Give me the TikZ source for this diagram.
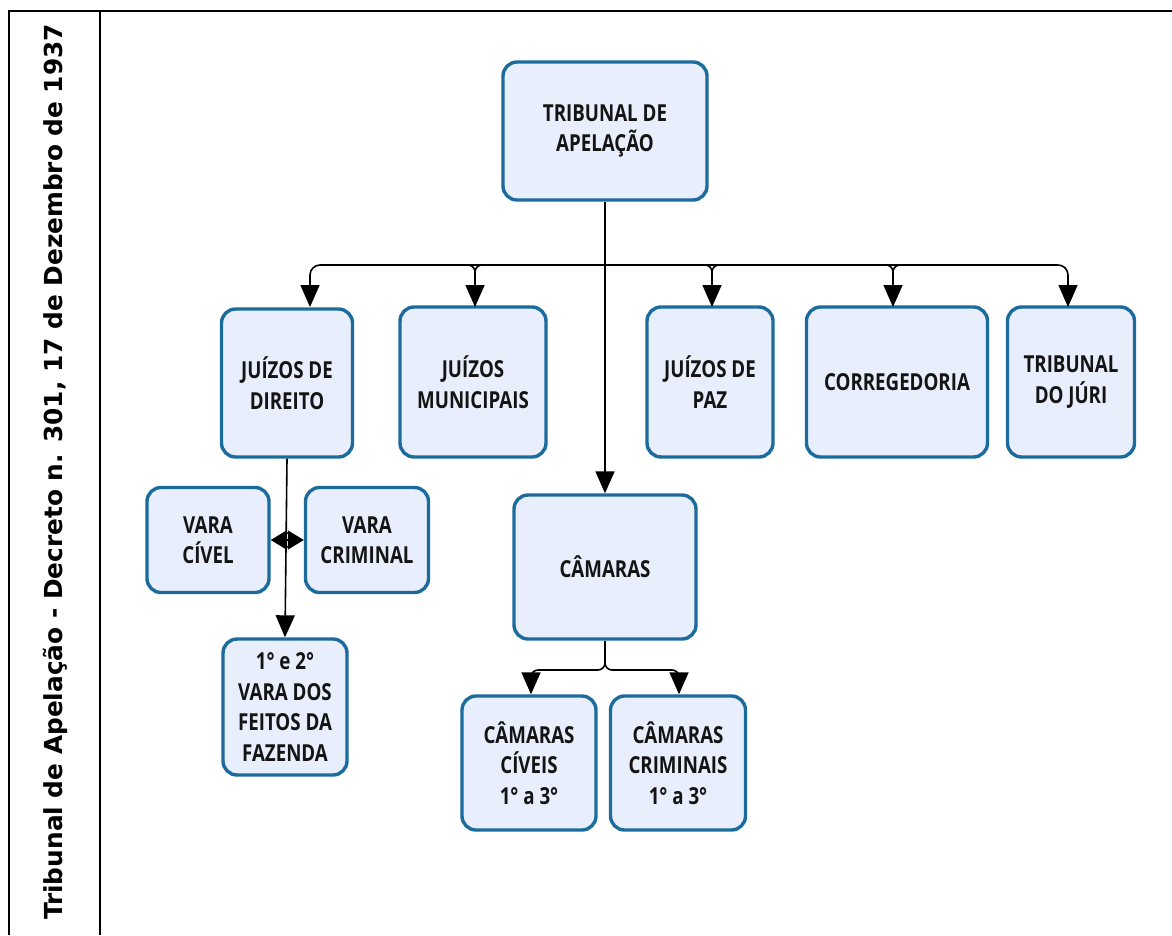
\documentclass[tikz,border=0pt]{standalone}
\usepackage{fontspec}
\setmainfont{Open Sans}
\newfontfamily\boxfont[FakeStretch=0.8]{Open Sans}
\newfontfamily\sidefont{DejaVu Sans}
\usetikzlibrary{arrows.meta}
\definecolor{boxline}{HTML}{1B6C9C}
\definecolor{boxfill}{HTML}{E9EEFC}
\begin{document}
\begin{tikzpicture}[x=1pt,y=-1pt,
  orgbox/.style={draw=boxline, line width=3.4pt, fill=boxfill, rounded corners=14pt,
    align=center, inner sep=0pt, font=\boxfont\bfseries\fontsize{23.4}{30.5}\selectfont, text=black!92},
  tip/.tip={Triangle[length=22pt,width=19pt]},
  shorttip/.tip={Triangle[length=16pt,width=19pt]},
  link/.style={line width=1.6pt, -tip},
  wire/.style={line width=1.6pt},
  frameline/.style={line width=2.6pt}]
\useasboundingbox (0,0) rectangle (1172,935);

% frame and side title
\draw[frameline] (9,935) -- (9,11) -- (1172,11);
\draw[line width=2pt] (100,11) -- (100,935);
\node[rotate=90, font=\sidefont\bfseries\fontsize{24.8}{28}\selectfont] (title) at (55,472)
  {Tribunal de Apelação - Decreto n. 301, 17 de Dezembro de 1937};

% boxes
\node[orgbox, minimum width=204pt, minimum height=138pt] (ta) at (605,131) {TRIBUNAL DE\\APELAÇÃO};
\node[orgbox, minimum width=131pt, minimum height=148pt] (jd) at (287,383) {JUÍZOS DE\\DIREITO};
\node[orgbox, minimum width=146pt, minimum height=150pt] (jm) at (473,382) {JUÍZOS\\MUNICIPAIS};
\node[orgbox, minimum width=126pt, minimum height=150pt] (jp) at (710,382) {JUÍZOS DE\\PAZ};
\node[orgbox, minimum width=181pt, minimum height=150pt] (co) at (897,382) {CORREGEDORIA};
\node[orgbox, minimum width=127pt, minimum height=150pt] (tj) at (1071,382) {TRIBUNAL\\DO JÚRI};
\node[orgbox, minimum width=122pt, minimum height=105pt] (vc) at (208,540) {VARA\\CÍVEL};
\node[orgbox, minimum width=123pt, minimum height=105pt] (vr) at (367,540) {VARA\\CRIMINAL};
\node[orgbox, minimum width=124pt, minimum height=136pt] (vf) at (285,707) {1° e 2°\\VARA DOS\\FEITOS DA\\FAZENDA};
\node[orgbox, minimum width=182pt, minimum height=144pt] (ca) at (605,567) {CÂMARAS};
\node[orgbox, minimum width=134pt, minimum height=134pt] (cc) at (529,763) {CÂMARAS\\CÍVEIS\\1° a 3°};
\node[orgbox, minimum width=135pt, minimum height=134pt] (cr) at (678,763) {CÂMARAS\\CRIMINAIS\\1° a 3°};

% bus below the court of appeal
\draw[link, rounded corners=10pt] (605,265) -- (310,265) -- (310,307);
\draw[link, rounded corners=10pt] (605,265) -- (1068,265) -- (1068,307);
\foreach \xx in {475,712,893}{
  \draw[wire, rounded corners=7pt] (\xx-20,265) -- (\xx,265) -- (\xx,285);
  \draw[wire, rounded corners=7pt] (\xx+20,265) -- (\xx,265) -- (\xx,285);
  \draw[link] (\xx,280) -- (\xx,307);
}
\draw[link] (ta.south) -- (ca.north);

% district courts
\draw[link] (jd.south) -- (vf.north);
\coordinate (mid) at (288,540);
\draw[wire, -shorttip] (mid) -- (vc.east);
\draw[wire, -shorttip] (mid) -- (vr.west);
\draw[line width=1.4pt] (mid) circle[radius=7];

% chambers
\coordinate (split) at (605,670);
\draw[wire] (ca.south) -- (605,662);
\draw[wire, rounded corners=7pt] (605,655) -- (split) -- (531,670) -- (531,682);
\draw[wire, rounded corners=7pt] (605,655) -- (split) -- (679,670) -- (679,682);
\draw[link] (531,676) -- (cc.north -| 531,0);
\draw[link] (679,676) -- (cr.north -| 679,0);
\end{tikzpicture}
\end{document}
